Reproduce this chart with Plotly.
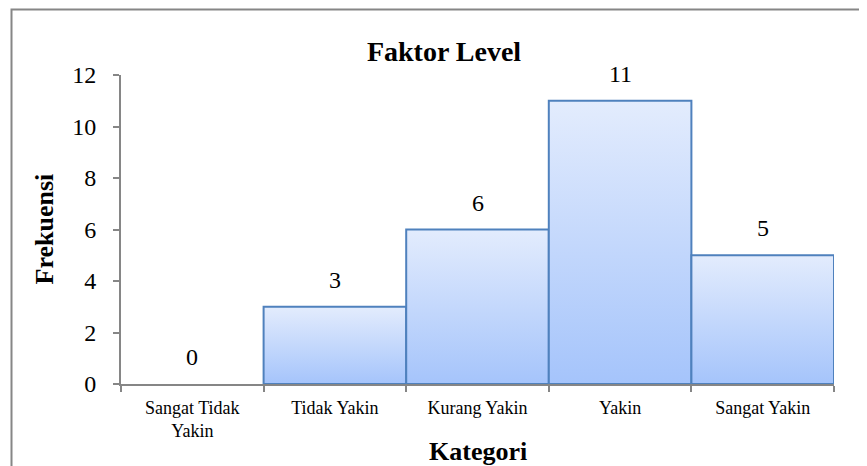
import plotly.graph_objects as go

# Data
categories = ["Sangat Tidak<br>Yakin", "Tidak Yakin", "Kurang Yakin", "Yakin", "Sangat Yakin"]
frequencies = [0, 3, 6, 11, 5]
y_ticks = [0, 2, 4, 6, 8, 10, 12]

serif = "Liberation Serif, Times New Roman, serif"
axis_grey = "#868686"
bar_edge = "#4f81bd"

# page body has an 8px margin, so positions are offset by that much
off = 8
W, H = 867, 466
px_left, px_right, px_top, px_bottom = 121 - off, 834 - off, 75 - off, 384 - off
pw, ph = px_right - px_left, px_bottom - px_top

fig = go.Figure()

# Histogram-style bars (no gap) with a vertical gradient fill
for i, v in enumerate(frequencies):
    if v == 0:
        continue
    fig.add_trace(go.Scatter(
        x=[i - 0.5, i - 0.5, i + 0.5, i + 0.5, i - 0.5],
        y=[0, v, v, 0, 0],
        mode="lines",
        fill="toself",
        fillgradient=dict(type="vertical",
                          colorscale=[[0, "#a5c4fb"], [1, "#e3ecfd"]]),
        line=dict(color=bar_edge, width=2),
        hoverinfo="skip",
        showlegend=False,
    ))

# Value labels above each bar
for i, v in enumerate(frequencies):
    fig.add_annotation(x=i, y=v, text=str(v), showarrow=False,
                       yanchor="middle", yshift=27,
                       font=dict(family=serif, size=24, color="black"))

fig.update_layout(
    width=W, height=H,
    margin=dict(l=px_left, r=W - px_right, t=px_top, b=H - px_bottom),
    paper_bgcolor="white", plot_bgcolor="white",
    title=dict(text="<b>Faktor Level</b>", x=(444 - off) / W, xref="container",
               xanchor="center", y=1 - (51 - off) / H, yanchor="middle",
               font=dict(family=serif, size=28, color="black")),
    showlegend=False,
)

fig.update_xaxes(
    range=[-0.5, 4.5],
    tickmode="array", tickvals=list(range(len(categories))), ticktext=categories,
    ticks="", showgrid=False, zeroline=False,
    showline=True, linecolor=axis_grey, linewidth=2,
    tickfont=dict(family=serif, size=18, color="black"),
    ticklabelstandoff=6,
    minor=dict(tickmode="array",
               tickvals=[k - 0.5 for k in range(len(categories) + 1)],
               ticks="outside", ticklen=6, tickcolor=axis_grey, tickwidth=2,
               showgrid=False),
)
fig.update_yaxes(
    range=[0, 12],
    tickmode="array", tickvals=y_ticks,
    ticks="outside", ticklen=6, tickcolor=axis_grey, tickwidth=2,
    showgrid=False, zeroline=False,
    showline=True, linecolor=axis_grey, linewidth=2,
    tickfont=dict(family=serif, size=24, color="black"),
    ticklabelstandoff=12,
)

# Axis titles
fig.add_annotation(text="<b>Frekuensi</b>", xref="paper", yref="paper",
                   x=(44 - 121) / pw, y=0.5, textangle=-90, showarrow=False,
                   xanchor="center", yanchor="middle",
                   font=dict(family=serif, size=26, color="black"))
fig.add_annotation(text="<b>Kategori</b>", xref="paper", yref="paper",
                   x=0.5, y=-(451 - 384) / ph, showarrow=False,
                   xanchor="center", yanchor="middle",
                   font=dict(family=serif, size=26, color="black"))

# Chart frame
fig.add_shape(type="rect", xref="paper", yref="paper",
              x0=(11.5 - 121) / pw, x1=(880 - 121) / pw,
              y0=-(480 - 384) / ph, y1=1 + (75 - 9.5) / ph,
              line=dict(color=axis_grey, width=2), layer="below")

fig.write_html("out.html")
